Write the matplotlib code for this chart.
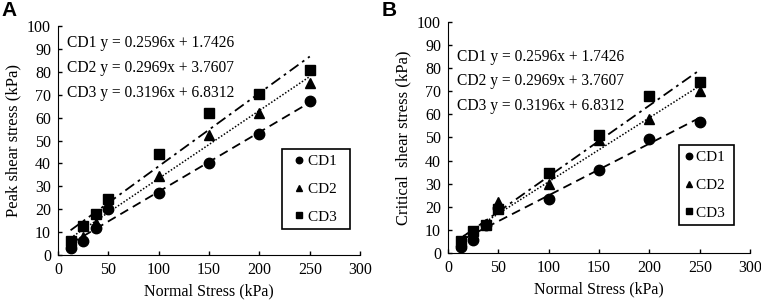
import matplotlib.pyplot as plt
import numpy as np

x = [12.5, 25, 37.5, 50, 100, 150, 200, 250]

# panel A (peak)
a_cd1 = [3, 6, 12, 20, 27, 40, 53, 67.5]
a_cd2 = [5, 8, 14, 21.5, 34.5, 52.5, 62, 75]
a_cd3 = [6, 12.5, 18, 24.5, 44, 62, 70.5, 81]

# panel B (critical)
b_cd1 = [2.5, 5.5, 12, 19.5, 23.5, 36, 49.5, 56.5]
b_cd2 = [4, 8, 12.5, 22, 30, 49, 58, 70]
b_cd3 = [5, 9.5, 12, 19, 34.5, 51, 68, 74]

labels = ["CD1", "CD2", "CD3"]
slopes = [0.2596, 0.2969, 0.3196]
intercepts = [1.7426, 3.7607, 6.8312]

plt.rcParams['font.family'] = ['Liberation Serif']

fig = plt.figure(figsize=(7.61, 3.04), dpi=100)
axA = fig.add_axes([0.0762, 0.161, 0.397, 0.753])
axB = fig.add_axes([0.5887, 0.168, 0.397, 0.760])

markers = ['o', '^', 's']
msizes = [7.5, 6.5, 7]
styles = [(0, (5, 3)), (0, (1, 1.2)), (0, (6, 2.5, 1.5, 2.5))]

def panel(ax, ys, fits, ylabel, text_y, leg_anchor, hl, tp, tail):
    xs = np.array([x[0], x[-1]])
    for i in range(3):
        ax.plot(xs, fits[i][0] * xs + fits[i][1], color='black',
                linestyle=styles[i], linewidth=1.3 if i != 1 else 1.1)
    for i in range(3):
        ax.plot(x, ys[i], linestyle='none', marker=markers[i], markersize=msizes[i],
                color='black', label=labels[i] + tail)
    ax.set_xlim(0, 300)
    ax.set_ylim(0, 100)
    ax.set_xticks(range(0, 301, 50))
    ax.set_yticks(range(0, 101, 10))
    ax.spines['top'].set_visible(False)
    ax.spines['right'].set_visible(False)
    ax.tick_params(direction='in', length=3, labelsize=11.5, width=1, pad=5)
    ax.set_xlabel("Normal Stress (kPa)", fontsize=11.5)
    ax.set_ylabel(ylabel, fontsize=12)
    for i in range(3):
        ax.text(9, text_y - i * 10.8, "%s y = %.4fx + %.4f" % (labels[i], slopes[i], intercepts[i]),
                fontsize=11.2, va='center')
    leg = ax.legend(loc='lower right', bbox_to_anchor=leg_anchor, fontsize=11,
                    frameon=True, fancybox=False, edgecolor='black', framealpha=1,
                    handlelength=hl, handletextpad=tp, borderpad=0.35, labelspacing=0.92,
                    markerscale=0.62, borderaxespad=0)
    leg.get_frame().set_linewidth(1.2)

fitsA = list(zip(slopes, intercepts))
ysB = [b_cd1, b_cd2, b_cd3]
fitsB = [tuple(np.polyfit(x, yy, 1)) for yy in ysB]

panel(axA, [a_cd1, a_cd2, a_cd3], fitsA, "Peak shear stress (kPa)", 92.5,
      (0.967, 0.1135), 1.5, -0.16, "  ")
panel(axB, ysB, fitsB, "Critical  shear stress (kPa)", 85,
      (0.947, 0.121), 0.7, 0.1, " ")

fig.text(0.002, 0.998, "A", fontsize=15, fontweight='bold', family='Liberation Sans', va='top')
fig.text(0.501, 0.998, "B", fontsize=15, fontweight='bold', family='Liberation Sans', va='top')

fig.savefig("out.png", dpi=100)
